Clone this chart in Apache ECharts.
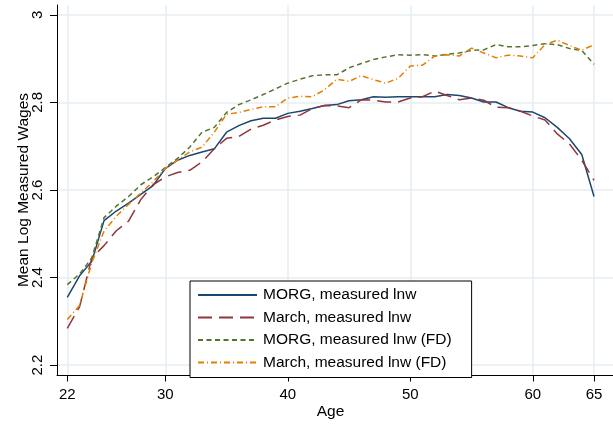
<!DOCTYPE html>
<html>
<head>
<meta charset="utf-8">
<script src="https://cdn.jsdelivr.net/npm/echarts@6/dist/echarts.min.js"></script>
<style>html,body{margin:0;padding:0;background:#fff}#c{width:613px;height:425px}</style>
</head>
<body>
<div id="c"></div>
<script>
var ages = [22,23,24,25,26,27,28,29,30,31,32,33,34,35,36,37,38,39,40,41,42,43,44,45,46,47,48,49,50,51,52,53,54,55,56,57,58,59,60,61,62,63,64,65];
var morg = [2.355,2.404,2.437,2.530,2.552,2.570,2.590,2.610,2.649,2.668,2.679,2.687,2.694,2.732,2.747,2.758,2.764,2.764,2.775,2.780,2.786,2.793,2.795,2.804,2.806,2.813,2.812,2.813,2.813,2.813,2.813,2.818,2.816,2.810,2.801,2.801,2.788,2.780,2.778,2.765,2.743,2.717,2.681,2.585];
var march = [2.284,2.333,2.445,2.473,2.507,2.529,2.578,2.612,2.630,2.640,2.645,2.664,2.694,2.718,2.722,2.739,2.748,2.760,2.768,2.771,2.786,2.793,2.792,2.788,2.806,2.805,2.801,2.801,2.810,2.813,2.826,2.816,2.806,2.810,2.805,2.789,2.788,2.780,2.769,2.760,2.728,2.705,2.668,2.622];
var morgFD = [2.384,2.408,2.445,2.537,2.563,2.585,2.612,2.630,2.651,2.672,2.698,2.732,2.743,2.777,2.795,2.806,2.818,2.831,2.844,2.853,2.861,2.863,2.863,2.879,2.889,2.898,2.904,2.909,2.908,2.909,2.906,2.910,2.913,2.919,2.920,2.932,2.927,2.927,2.930,2.934,2.932,2.923,2.919,2.887];
var marchFD = [2.304,2.336,2.434,2.506,2.540,2.567,2.593,2.619,2.649,2.668,2.687,2.698,2.732,2.773,2.777,2.784,2.790,2.790,2.810,2.814,2.813,2.829,2.853,2.848,2.861,2.852,2.844,2.855,2.883,2.885,2.906,2.909,2.906,2.924,2.913,2.902,2.908,2.906,2.902,2.932,2.942,2.930,2.919,2.932];
var xTicks = [22,30,40,50,60,65];
var yTicks = [2.2,2.4,2.6,2.8,3];
var names = ['MORG, measured lnw','March, measured lnw','MORG, measured lnw (FD)','March, measured lnw (FD)'];

function pairs(v){ return ages.map(function(a,i){ return [a, v[i]]; }); }

var FONT = "'Liberation Sans', Arial, sans-serif";
var chart = echarts.init(document.getElementById('c'), null, {renderer:'canvas'});
var gridLine = {show:true, lineStyle:{color:'#e4edf0', width:1.5}};
function mkSeries(name, data, color, type){
  return {name:name, type:'line', data:pairs(data), symbol:'none', showSymbol:false,
    lineStyle:{color:color, width:1.5, type:type}, itemStyle:{color:color}, animation:false, z:3};
}
chart.setOption({
  animation:false,
  backgroundColor:'#fff',
  grid:{left:57, top:5, right:0, bottom:44, containLabel:false},
  xAxis:{type:'value', min:21.16, max:66.55,
    name:'Age', nameLocation:'middle', nameGap:29, nameMoveOverlap:false,
    nameTextStyle:{fontFamily:FONT, fontSize:15.5, color:'#000', padding:[0,9,0,0]},
    axisLine:{show:true, onZero:false, lineStyle:{color:'#000', width:1}},
    axisTick:{show:true, length:6.5, customValues:xTicks, lineStyle:{color:'#000', width:1}},
    axisLabel:{customValues:xTicks, fontFamily:FONT, fontSize:15, color:'#000', margin:12},
    splitLine:gridLine},
  yAxis:{type:'value', min:2.1775, max:3.0225,
    name:'Mean Log Measured Wages', nameLocation:'middle', nameGap:25.5, nameMoveOverlap:false,
    nameTextStyle:{fontFamily:FONT, fontSize:15.5, color:'#000'},
    axisLine:{show:true, onZero:false, lineStyle:{color:'#000', width:1}},
    axisTick:{show:true, length:7, customValues:yTicks, lineStyle:{color:'#000', width:1}},
    axisLabel:{customValues:yTicks, rotate:90, fontFamily:FONT, fontSize:15, color:'#000', margin:12,
      formatter:function(v){ return String(Math.round(v*10)/10); }},
    splitLine:gridLine},
  legend:{show:true, orient:'vertical', left:190, top:281,
    padding:[6,20,7,7], itemGap:6.5, itemWidth:59, itemHeight:14,
    backgroundColor:'#fff', borderColor:'#000', borderWidth:1, borderRadius:0,
    itemStyle:{opacity:0},
    textStyle:{fontFamily:FONT, fontSize:15.5, color:'#000', padding:[0,0,0,1]},
    data:names},
  series:[
    mkSeries(names[0], morg, '#1a476f', 'solid'),
    mkSeries(names[1], march, '#90353b', [14,7]),
    mkSeries(names[2], morgFD, '#55752f', [5,3.5]),
    mkSeries(names[3], marchFD, '#e37e00', [6,3,1,3])
  ]
});
</script>
</body>
</html>
